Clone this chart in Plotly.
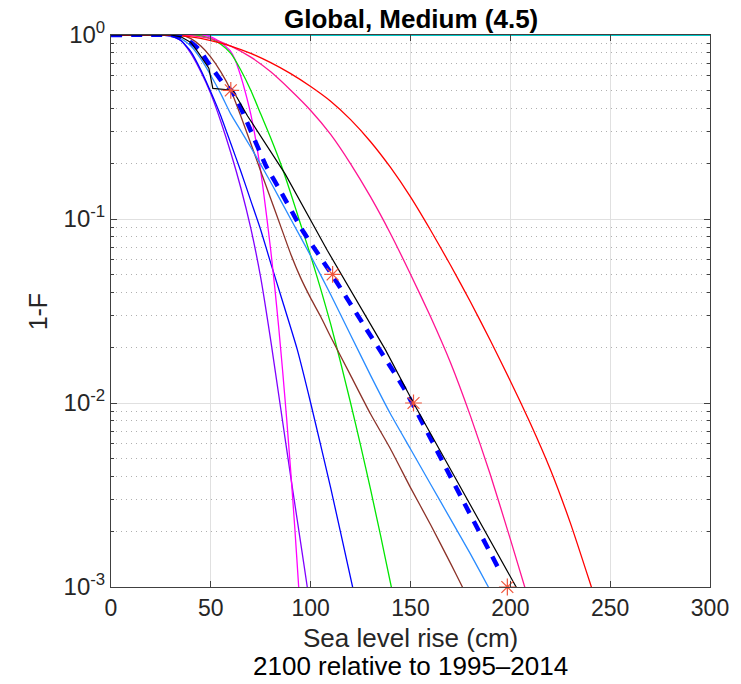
import plotly.graph_objects as go

# ---- data (x in cm, values as log10(1-F)) ----
purple_x = [0, 25, 30, 35, 40, 45, 50, 55, 60, 65, 70, 75, 80, 85, 90, 95, 98.3, 100]
purple_lg = [0, 0, -0.005, -0.03, -0.1, -0.2, -0.32, -0.47, -0.64, -0.83, -1.05, -1.32, -1.66, -2.03, -2.4, -2.76, -3.0, -3.12]

blue_x = [0, 25, 30, 35, 40, 45, 50, 55, 60, 65, 70, 75, 80, 86, 93.3, 100, 110, 121, 123]
blue_lg = [0, 0, -0.005, -0.03, -0.09, -0.19, -0.31, -0.44, -0.59, -0.74, -0.9, -1.06, -1.24, -1.45, -1.71, -2.0, -2.46, -3.0, -3.1]

magenta_x = [0, 45, 50, 55, 60, 62, 64, 66, 68, 70, 72, 74, 76, 78, 80, 82, 84, 86, 88, 90, 92, 94, 95]
magenta_lg = [0, 0, -0.01, -0.04, -0.09, -0.13, -0.19, -0.26, -0.34, -0.43, -0.54, -0.67, -0.82, -0.99, -1.17, -1.37, -1.59, -1.83, -2.09, -2.37, -2.67, -3.0, -3.17]

green_x = [0, 40, 45, 50, 55, 60, 65, 70, 75, 80, 85, 90, 95, 100, 105, 110, 115, 120, 125, 130, 135, 140.4, 142]
green_lg = [0, 0, -0.005, -0.02, -0.05, -0.1, -0.19, -0.3, -0.43, -0.56, -0.7, -0.86, -1.03, -1.2, -1.38, -1.57, -1.78, -2.0, -2.23, -2.47, -2.72, -3.0, -3.08]

brown_x = [0, 35, 40, 45, 50, 55, 60, 65, 70, 75, 80, 85, 90, 95, 100, 105, 110, 120, 130, 140, 150, 160, 170, 176, 180]
brown_lg = [0, 0, -0.02, -0.06, -0.12, -0.2, -0.3, -0.44, -0.59, -0.74, -0.89, -1.04, -1.19, -1.32, -1.43, -1.53, -1.64, -1.85, -2.06, -2.25, -2.46, -2.66, -2.87, -3.0, -3.08]

lightblue_x = [0, 30, 35, 40, 45, 50, 55, 60, 65, 70, 80, 90, 100, 110, 120, 130, 140, 150, 160, 170, 180, 189, 193]
lightblue_lg = [0, 0, -0.02, -0.06, -0.13, -0.22, -0.32, -0.43, -0.52, -0.61, -0.8, -1.0, -1.2, -1.41, -1.63, -1.85, -2.06, -2.25, -2.44, -2.63, -2.82, -3.0, -3.08]

pink_x = [0, 35, 40, 50, 60, 70, 80, 90, 100, 110, 120, 130, 140, 150, 160, 170, 180, 190, 200, 210]
pink_lg = [0, 0, -0.003, -0.02, -0.06, -0.12, -0.2, -0.3, -0.41, -0.54, -0.7, -0.88, -1.08, -1.3, -1.53, -1.78, -2.07, -2.39, -2.74, -3.1]

red_x = [0, 30, 40, 50, 60, 70, 80, 90, 100, 110, 120, 130, 140, 150, 160, 170, 180, 190, 200, 210, 220, 230, 240, 245]
red_lg = [0, 0, -0.01, -0.03, -0.06, -0.1, -0.15, -0.21, -0.28, -0.36, -0.46, -0.58, -0.72, -0.88, -1.06, -1.25, -1.45, -1.66, -1.88, -2.11, -2.36, -2.65, -2.98, -3.15]

black_x = [0, 30, 35, 40, 44, 49, 51, 61, 68.4, 87.2, 108.3, 137.4, 151.5, 203, 206]
black_lg = [0, 0, -0.01, -0.04, -0.1, -0.18, -0.29, -0.3, -0.44, -0.755, -1.17, -1.71, -2.0, -3.0, -3.06]

median_x = [0, 30, 35, 40, 44.3, 48, 52.6, 56, 60.1, 62.6, 68.4, 77.6, 85.5, 95.8, 110.5, 128, 147.3, 170, 194.6]
median_lg = [0, 0, -0.01, -0.04, -0.08, -0.14, -0.21, -0.26, -0.3, -0.34, -0.48, -0.71, -0.86, -1.06, -1.3, -1.6, -1.93, -2.4, -2.91]

cyan_x = [0, 300]
cyan_y = [1, 1]

star_x = [60, 111, 151.5, 198.5]
star_y = [0.5, 0.05, 0.01, 0.001]

x_ticks = [0, 50, 100, 150, 200, 250, 300]
y_ticks = [1, 0.1, 0.01, 0.001]
y_ticktext = ["10<sup>0</sup>", "10<sup>-1</sup>", "10<sup>-2</sup>", "10<sup>-3</sup>"]


def ys(lg):
    return [10 ** v for v in lg]


fig = go.Figure()

fig.add_trace(go.Scatter(x=cyan_x, y=cyan_y, mode="lines",
                         line=dict(color="#00c8c8", width=2), cliponaxis=False))

curves = [
    (purple_x, purple_lg, "#8000ff"),
    (blue_x, blue_lg, "#0000ff"),
    (magenta_x, magenta_lg, "#ff00ff"),
    (green_x, green_lg, "#00e600"),
    (brown_x, brown_lg, "#8c3228"),
    (lightblue_x, lightblue_lg, "#2a8cff"),
    (pink_x, pink_lg, "#ff1493"),
    (red_x, red_lg, "#ff0000"),
]
for cx, clg, col in curves:
    fig.add_trace(go.Scatter(x=cx, y=ys(clg), mode="lines",
                             line=dict(color=col, width=1.3, shape="spline", smoothing=0.5)))

fig.add_trace(go.Scatter(x=median_x, y=ys(median_lg), mode="lines",
                         line=dict(color="#0000ff", width=4.5, dash="11px,9px", shape="spline", smoothing=0.4)))
fig.add_trace(go.Scatter(x=black_x, y=ys(black_lg), mode="lines",
                         line=dict(color="#000000", width=1.2)))
fig.add_trace(go.Scatter(x=star_x, y=star_y, mode="markers", cliponaxis=False,
                         marker=dict(symbol="asterisk-open", size=14,
                                     line=dict(color="#ff0000", width=1.2))))

font_family = "Liberation Sans, Arial, sans-serif"
axis_col = "#262626"
line_col = "#404040"

fig.update_layout(
    width=741, height=684,
    margin=dict(l=111, r=28, t=35, b=97),
    paper_bgcolor="white", plot_bgcolor="white",
    showlegend=False,
    font=dict(family=font_family, size=23, color=axis_col),
)

fig.update_xaxes(
    range=[0, 300], tickvals=x_ticks, ticktext=[str(v) for v in x_ticks],
    showgrid=True, gridcolor="#e0e0e0", gridwidth=1,
    showline=True, linecolor=line_col, linewidth=1, mirror="ticks",
    ticks="inside", ticklen=6, tickcolor=line_col,
    tickfont=dict(size=23, color=axis_col), zeroline=False,
)
fig.update_yaxes(
    type="log", range=[-3, 0], tickvals=y_ticks, ticktext=y_ticktext,
    showgrid=True, gridcolor="#e0e0e0", gridwidth=1,
    showline=True, linecolor=line_col, linewidth=1, mirror="ticks",
    ticks="inside", ticklen=6, tickcolor=line_col,
    tickfont=dict(size=24, color=axis_col), zeroline=False,
    minor=dict(dtick="D1", ticks="inside", ticklen=3, tickcolor=line_col,
               showgrid=True, griddash="1px,4px", gridcolor="#b0b0b0", gridwidth=1),
)

fig.add_annotation(text="<b>Global, Medium (4.5)</b>", xref="paper", yref="paper",
                   x=0.5, y=1 + (35 - 19) / 552, yanchor="middle", showarrow=False,
                   font=dict(size=26, color="black", family=font_family))
fig.add_annotation(text="Sea level rise (cm)", xref="paper", yref="paper",
                   x=0.5, y=-(638 - 587) / 552, yanchor="middle", showarrow=False,
                   font=dict(size=26, color=axis_col, family=font_family))
fig.add_annotation(text="2100 relative to 1995\u20132014", xref="paper", yref="paper",
                   x=0.5, y=-(666 - 587) / 552, yanchor="middle", showarrow=False,
                   font=dict(size=26, color="black", family=font_family))
fig.add_annotation(text="1-F", xref="paper", yref="paper", textangle=-90,
                   x=(38 - 111) / 602, y=0.5, xanchor="center", yanchor="middle", showarrow=False,
                   font=dict(size=25, color=axis_col, family=font_family))

fig.write_html("out.html")
